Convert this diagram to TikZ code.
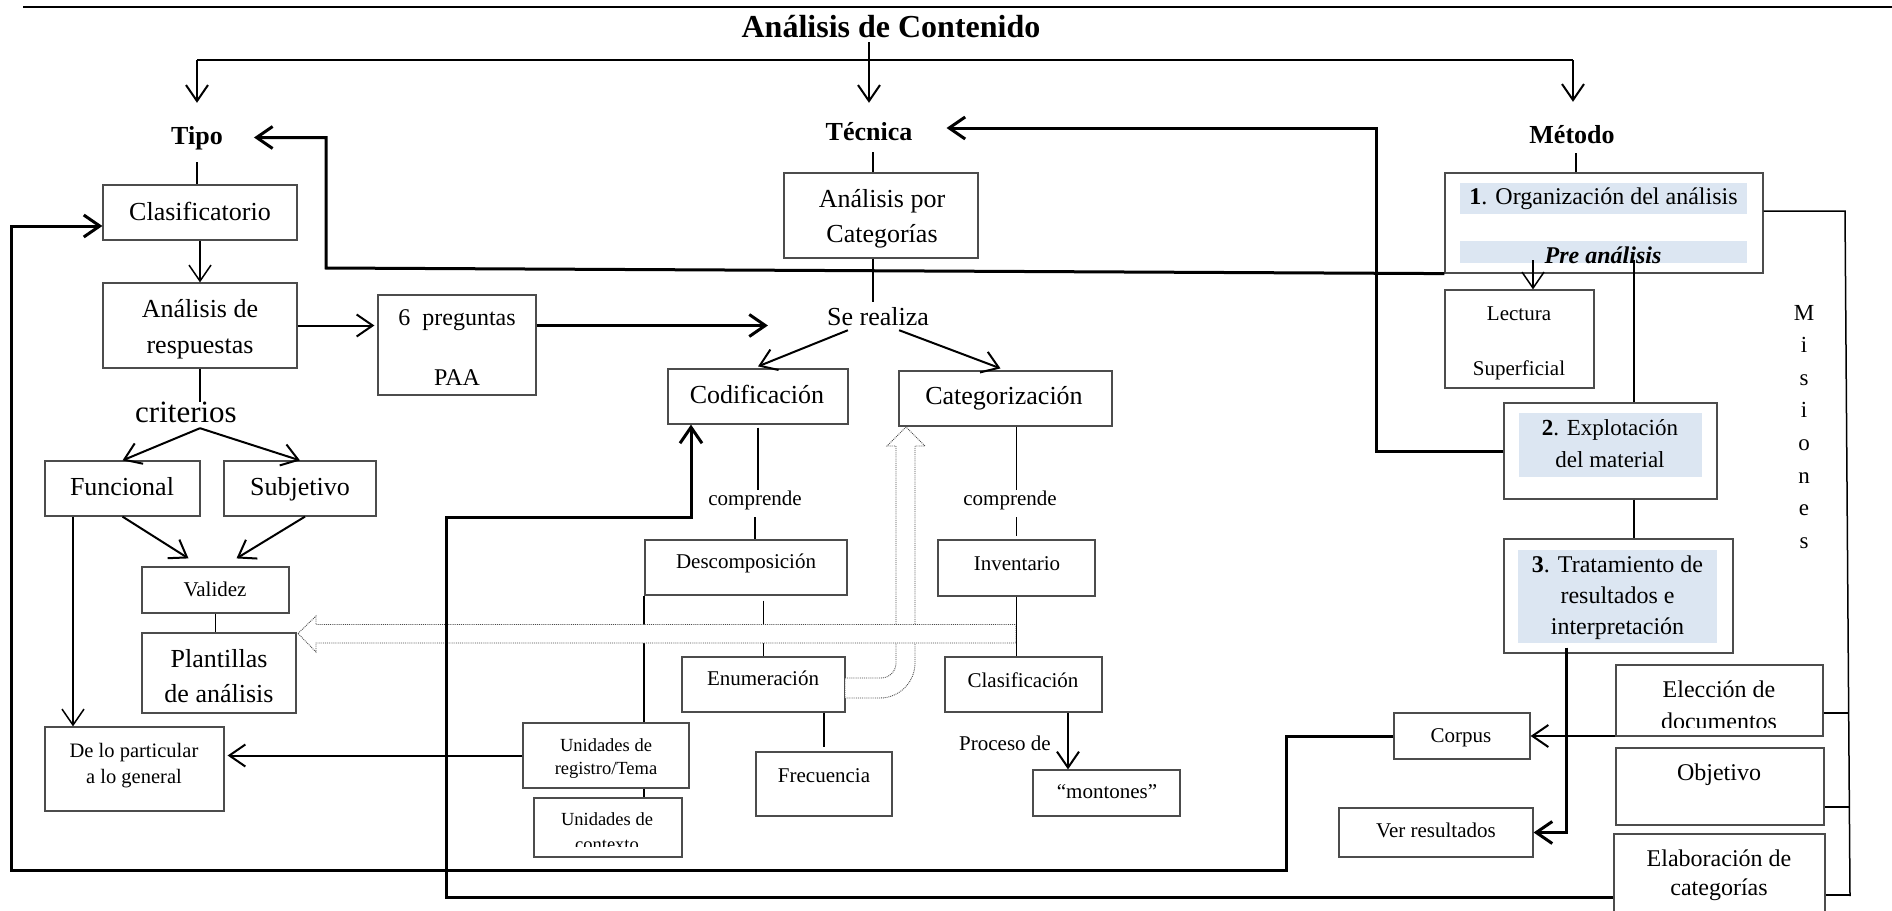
\documentclass[tikz,border=0pt]{standalone}
\usepackage{fontspec}
\setmainfont{Liberation Serif}
\usetikzlibrary{arrows.meta,fit,calc}
\definecolor{bandblue}{RGB}{220,230,242}
\newcommand\fsz[2]{\fontsize{#1}{#2}\selectfont}
\newcommand\mlines[1]{\begin{tabular}[t]{@{}c@{}}#1\end{tabular}}
\tikzset{
  box/.style={draw=black!70, line width=1.2pt, inner sep=0pt, fill=white},
  lbl/.style={inner sep=0pt, anchor=base},
  hdr/.style={inner sep=0pt, anchor=base, text height=18pt, text depth=5pt, font=\fsz{26}{31}\bfseries},
  ln/.style={line width=1.5pt},
  med/.style={line width=2pt},
  thk/.style={line width=3pt},
  arr/.style={-{Straight Barb[length=16pt,width=22pt]}},
  hollow/.style={draw=black!70, densely dotted, line width=0.9pt, fill=white},
  band/.style={fill=bandblue},
}
\begin{document}
\begin{tikzpicture}[x=1pt,y=-1pt]
\useasboundingbox (0,0) rectangle (1892,910);
\fill[white] (0,0) rectangle (1892,910);

% top rule
\draw[line width=2.2pt] (23,7) -- (1892,7);

% headings
\node[lbl, font=\fsz{32}{38}\bfseries, text depth=5pt] (title) at (891,37) {Análisis de Contenido};
\node[hdr] (tipo) at (197,144) {Tipo};
\node[hdr] (tecnica) at (869,140) {Técnica};
\node[hdr] (metodo) at (1572,143) {Método};

% boxes
\node[box, fit={(103,185) (297,240)}] (clas) {};
\node[box, fit={(103,283) (297,368)}] (adr) {};
\node[box, fit={(378,295) (536,395)}] (sixp) {};
\node[box, fit={(784,173) (978,258)}] (apc) {};
\node[box, fit={(668,369) (848,424)}] (cod) {};
\node[box, fit={(899,371) (1112,426)}] (catg) {};
\node[box, fit={(45,461) (200,516)}] (func) {};
\node[box, fit={(224,461) (376,516)}] (subj) {};
\node[box, fit={(142,567) (289,613)}] (valid) {};
\node[box, fit={(142,633) (296,713)}] (plant) {};
\node[box, fit={(45,727) (224,811)}] (dlp) {};
\node[box, fit={(645,540) (847,595)}] (desc) {};
\node[box, fit={(938,540) (1095,596)}] (inv) {};
\node[box, fit={(682,657) (845,712)}] (enum) {};
\node[box, fit={(945,657) (1102,712)}] (clsf) {};
\node[box, fit={(756,752) (892,816)}] (frec) {};
\node[box, fit={(1033,770) (1180,816)}] (mont) {};
\node[box, fit={(523,723) (689,788)}] (unir) {};
\node[box, fit={(534,798) (682,857)}] (unic) {};
\node[box, fit={(1445,173) (1763,273)}] (org) {};
\node[box, fit={(1445,290) (1594,388)}] (lect) {};
\node[box, fit={(1504,403) (1717,499)}] (expl) {};
\node[box, fit={(1504,539) (1733,653)}] (trat) {};
\node[box, fit={(1394,713) (1530,759)}] (corpus) {};
\node[box, fit={(1339,808) (1533,857)}] (ver) {};
\node[box, fit={(1616,665) (1823,736)}] (elec) {};
\node[box, fit={(1616,748) (1824,825)}] (obj) {};
\node[box, fit={(1614,834) (1825,925)}] (elab) {};

% shaded bands in the method boxes
\fill[band] (1460,183) rectangle (1747,214);
\fill[band] (1460,241) rectangle (1747,263);
\fill[band] (1519,413) rectangle (1702,477);
\fill[band] (1518,550) rectangle (1717,643);

% box texts
\node[lbl, font=\fsz{26}{31}] (clas-t) at (200,220) {Clasificatorio};
\node[lbl, font=\fsz{26}{36}] (adr-t) at (200,317) {\mlines{Análisis de\\respuestas}};
\node[lbl, font=\fsz{24}{60}] (sixp-t) at (457,325) {\mlines{6~~preguntas\\PAA}};
\node[lbl, font=\fsz{26}{35}] (apc-t) at (882,207) {\mlines{Análisis por\\Categorías}};
\node[lbl, font=\fsz{26}{31}, text height=18pt, text depth=5pt] (serealiza) at (878,325) {Se realiza};
\node[lbl, font=\fsz{26}{31}] (cod-t) at (757,403) {Codificación};
\node[lbl, font=\fsz{26}{31}] (catg-t) at (1004,404) {Categorización};
\node[lbl, font=\fsz{31}{37}, text height=20pt, text depth=6pt] (crit) at (186,422) {criterios};
\node[lbl, font=\fsz{26}{31}] (func-t) at (122,495) {Funcional};
\node[lbl, font=\fsz{26}{31}] (subj-t) at (300,495) {Subjetivo};
\node[lbl, font=\fsz{21}{25}] (valid-t) at (215,596) {Validez};
\node[lbl, font=\fsz{26}{35}] (plant-t) at (219,667) {\mlines{Plantillas\\de análisis}};
\node[lbl, font=\fsz{20.5}{26}] (dlp-t) at (134,757) {\mlines{De lo particular\\a lo general}};
\node[lbl, font=\fsz{21}{25}, text height=15pt, text depth=5pt] (comp1) at (755,505) {comprende};
\node[lbl, font=\fsz{21}{25}, text height=15pt, text depth=5pt] (comp2) at (1010,505) {comprende};
\node[lbl, font=\fsz{21}{25}] (desc-t) at (746,568) {Descomposición};
\node[lbl, font=\fsz{21}{25}] (inv-t) at (1017,570) {Inventario};
\node[lbl, font=\fsz{21}{25}] (enum-t) at (763,685) {Enumeración};
\node[lbl, font=\fsz{21}{25}] (clsf-t) at (1023,687) {Clasificación};
\node[lbl, font=\fsz{21}{25}] (frec-t) at (824,782) {Frecuencia};
\node[lbl, font=\fsz{21}{25}] (proc) at (1005,750) {Proceso de};
\node[lbl, font=\fsz{21}{25}] (mont-t) at (1107,798) {“montones”};
\node[lbl, font=\fsz{18.5}{23}] (unir-t) at (606,751) {\mlines{Unidades de\\registro/Tema}};
\begin{scope}
  \clip (534,798) rectangle (682,846);
  \node[lbl, font=\fsz{18.5}{25}] (unic-t) at (607,825) {\mlines{Unidades de\\contexto}};
\end{scope}
\node[lbl, font=\fsz{24}{30}] (org-t) at (1603.5,204) {\textbf{1}. Organización del análisis};
\node[lbl, font=\fsz{24}{30}\bfseries\itshape] (pre-t) at (1603,263) {Pre análisis};
\node[lbl, font=\fsz{21}{55}] (lect-t) at (1519,320) {\mlines{Lectura\\Superficial}};
\node[lbl, font=\fsz{23}{32}] (expl-t) at (1610,435) {\mlines{\textbf{2}. Explotación\\del material}};
\node[lbl, font=\fsz{24}{31}] (trat-t) at (1617.5,572) {\mlines{\textbf{3}. Tratamiento de\\resultados e\\interpretación}};
\node[lbl, font=\fsz{23}{32.6}] (mis) at (1804,320) {\mlines{M\\i\\s\\i\\o\\n\\e\\s}};
\node[lbl, font=\fsz{21}{25}] (corpus-t) at (1461,742) {Corpus};
\node[lbl, font=\fsz{21}{25}] (ver-t) at (1436,837) {Ver resultados};
\begin{scope}
  \clip (1616,665) rectangle (1823,727);
  \node[lbl, font=\fsz{24}{32}] (elec-t) at (1719,697) {\mlines{Elección de\\documentos}};
\end{scope}
\node[lbl, font=\fsz{24}{30}] (obj-t) at (1719,780) {Objetivo};
\node[lbl, font=\fsz{24}{29}] (elab-t) at (1719,866) {\mlines{Elaboración de\\categorías}};

% column coordinates for off-centre connectors
\coordinate (hlL) at (197,60);
\coordinate (hlR) at (1573,60);
\coordinate (tcol) at (873,0);
\coordinate (mtcol) at (1576,0);
\coordinate (fcol) at (73,0);
\coordinate (ucol) at (644,0);
\coordinate (mcol) at (1068,0);
\coordinate (vcol) at (1566,0);
\coordinate (lcol) at (1533,260);
\coordinate (scol) at (1634,260);

% heading connectors
\draw[med] (hlL) -- (hlR);
\draw[med,arr,shorten >=23pt] (hlL) -- (tipo.north);
\draw[med,arr,shorten >=23pt] (hlR) -- (hlR |- metodo.north);
\draw[med,arr,shorten >=19pt] (title.south -| tecnica.north) -- (tecnica.north);
\draw[ln,shorten <=13pt] (tipo.south) -- (tipo.south |- clas.north);
\draw[ln,shorten <=7pt] (tcol |- tecnica.south) -- (tcol |- apc.north);
\draw[ln,shorten <=5pt] (mtcol |- metodo.south) -- (mtcol |- org.north);

% type branch
\draw[ln,arr] (clas.south) -- (adr.north);
\draw[med,arr,shorten >=3pt] (adr.east) -- (adr.east -| sixp.west);
\draw[ln] (adr.south) -- (adr.south |- crit.north);
\draw[med,arr] ([xshift=14pt]crit.south) -- (func.north);
\draw[med,arr] ([xshift=14pt]crit.south) -- (subj.north);
\draw[med,arr] (func.south) -- ($(valid.north)+(-27,-8)$);
\draw[med,arr] ([xshift=5pt]subj.south) -- ($(valid.north)+(21,-8)$);
\draw[ln,arr] (fcol |- func.south) -- (fcol |- dlp.north);
\draw[ln] (valid.south) -- (valid.south |- plant.north);

% technique branch
\draw[thk,arr,shorten >=59pt] (adr.east -| sixp.east) -- (adr.east -| serealiza.west);
\draw[ln,shorten >=5pt] (tcol |- apc.south) -- (tcol |- serealiza.north);
\draw[med,arr] ([xshift=21pt]serealiza.south west) -- ($(cod.north)+(0,-2)$);
\draw[med,arr] ([xshift=-30pt]serealiza.south east) -- ($(catg.north)+(-5,-2)$);
\draw[ln,shorten <=3pt] (cod.south) -- (cod.south |- comp1.north);
\draw[ln,shorten <=7pt] (comp1.south) -- (comp1.south |- desc.north);
\draw[ln] (catg.south -| inv.north) -- (inv.north |- comp2.north);
\draw[ln,shorten <=7pt,shorten >=3pt] (inv.north |- comp2.south) -- (inv.north);
\draw[ln,shorten <=5pt] (desc.south -| enum.north) -- (enum.north);
\draw[ln,shorten >=4pt] (enum.south -| frec.north) -- (frec.north);
\draw[ln] (ucol |- desc.south) -- (ucol |- unir.north);
\draw[ln] (ucol |- unir.south) -- (ucol |- unic.north);
\draw[med,arr,shorten >=3pt] (unir.west) -- (unir.west -| dlp.east);

% hollow dotted arrows
\draw[hollow] (845,678) -- (881,678) .. controls (889.3,678) and (896,671.3) .. (896,663)
  -- (896,446) -- (887,446) -- (906,427) -- (925,446) -- (915,446) -- (915,663)
  .. controls (915,682.3) and (899.3,698) .. (880,698) -- (845,698) -- cycle;
\draw[hollow] (298,633.5) -- (316,616) -- (316,624.5) -- (1016,624.5) -- (1016,643)
  -- (316,643) -- (316,652) -- cycle;

\draw[ln] (inv.south) -- (inv.south |- clsf.north);
\draw[med,arr] (mcol |- clsf.south) -- (mcol |- mont.north);

% method branch
\draw[ln,arr] (lcol) -- (lcol |- lect.north);
\draw[ln] (scol) -- (scol |- expl.north);
\draw[ln] (scol |- expl.south) -- (scol |- trat.north);
\draw[thk,arr] ($(vcol |- trat.south)+(0,-6)$) |- (ver.east);
\draw[med,arr] (corpus.east -| elec.west) -- (corpus.east);

% misiones bracket
\coordinate (bkTop) at (1845,211);
\coordinate (bkBot) at (1850,896);
\coordinate (bk1) at (1849,713);
\coordinate (bk2) at (1849,807);
\coordinate (bk3) at (1850,895);
\draw[ln] (bkTop -| org.east) -- (bkTop) -- (bkBot);
\draw[med] (bk1 -| elec.east) -- (bk1);
\draw[med] (bk2 -| obj.east) -- (bk2);
\draw[med] (bk3 -| elab.east) -- (bk3);

% long feedback connectors
\coordinate (bP) at (326,268);
\draw[thk,arr,shorten >=31pt] (org.south west) -- (bP) |- (tipo.east);
\coordinate (bT) at (1376,128);
\draw[thk,arr,shorten >=34pt] (expl.west) -| (bT) -- (bT -| tecnica.east);
\coordinate (lpC) at (1286,870);
\coordinate (lpL) at (11,870);
\draw[thk,arr] (corpus.west) -| (lpC) -- (lpL) |- ($(clas.west)+(0,13.5)$);
\coordinate (lpE) at (446,897);
\coordinate (lpJ) at (691,517);
\draw[thk,arr] (elab.west |- lpE) -- (lpE) |- (lpJ) -- (lpJ |- cod.south);
\end{tikzpicture}
\end{document}
